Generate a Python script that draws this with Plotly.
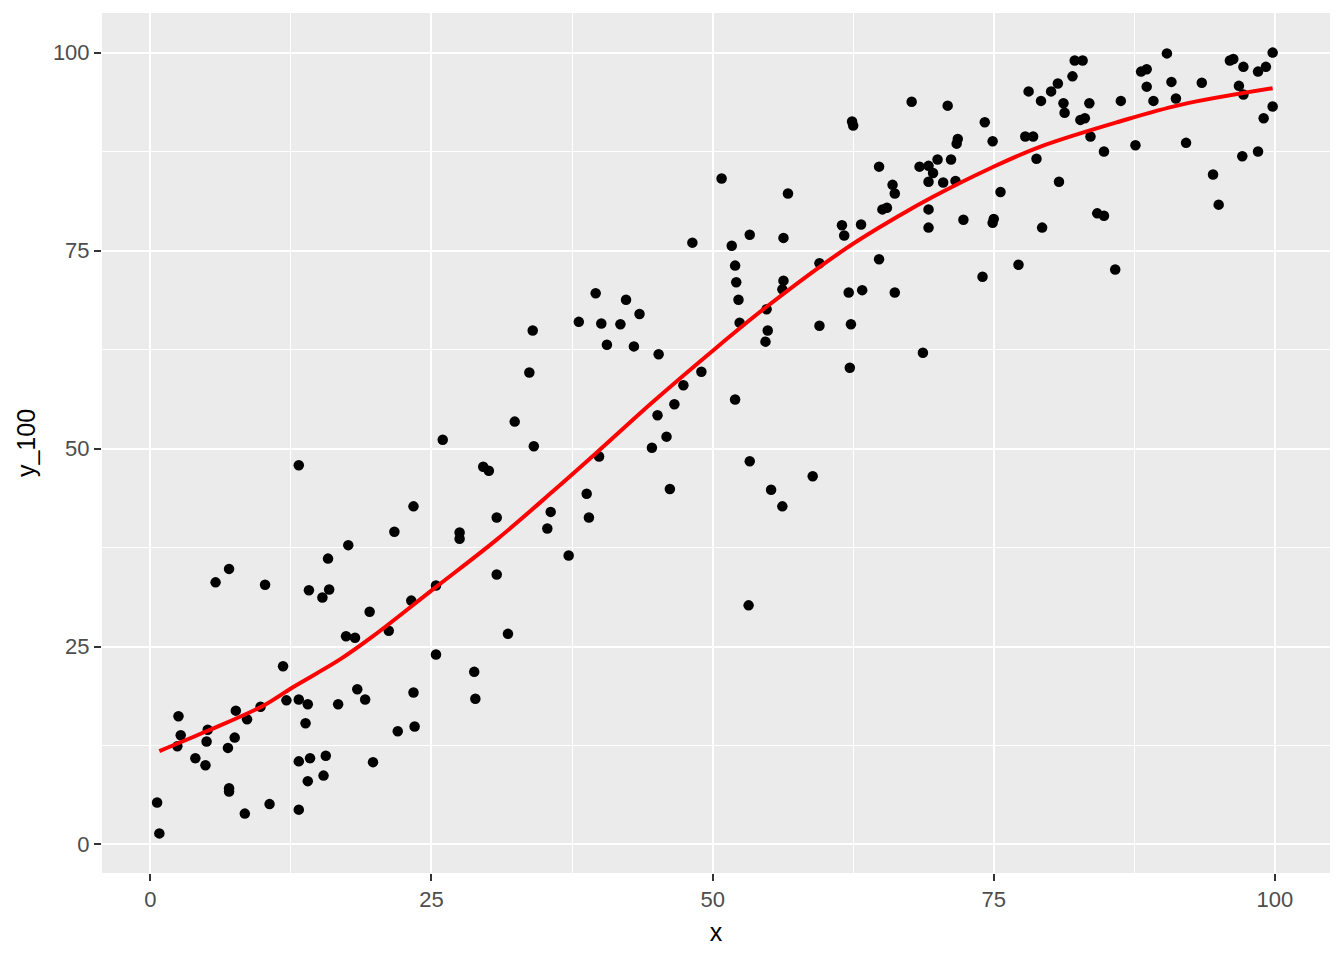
import plotly.graph_objects as go

# scatter data
x_vals = [0.6, 0.8, 2.5, 2.7, 2.4, 4.0, 4.9, 5.1, 5.0, 5.8, 7.0, 6.9, 7.0, 7.0, 7.5, 7.6, 8.4, 8.6, 9.8, 10.2,
          10.6, 11.8, 12.1, 13.2, 13.2, 13.2, 13.2, 13.8, 14.0, 14.1, 14.0, 14.2, 15.3, 15.6, 15.4, 15.8, 15.9, 16.7, 17.4, 17.6,
          18.2, 18.4, 19.1, 19.5, 19.8, 21.2, 21.7, 22.0, 23.2, 23.4, 23.4, 23.5, 25.4, 25.4, 26.0, 27.5, 27.5, 28.8, 28.9, 29.6,
          30.1, 30.8, 30.8, 31.8, 32.4, 33.7, 34.0, 34.1, 35.3, 35.6, 37.2, 38.1, 38.8, 39.0, 39.6, 39.9, 40.1, 40.6, 41.8, 42.3,
          43.0, 43.5, 44.6, 45.1, 45.2, 45.9, 46.2, 46.6, 47.4, 48.2, 49.0, 50.8, 51.7, 52.0, 52.1, 52.0, 52.3, 52.4, 53.2, 53.3,
          53.3, 54.7, 54.9, 54.8, 55.2, 56.2, 56.3, 56.3, 56.2, 56.7, 58.9, 59.5, 59.5, 61.5, 61.7, 62.1, 62.3, 62.2, 62.4, 62.5,
          63.2, 63.3, 64.8, 64.8, 65.1, 65.5, 66.0, 66.2, 66.2, 67.7, 68.4, 68.7, 69.2, 69.2, 69.2, 69.2, 69.6, 70.0, 70.5, 70.9,
          71.2, 71.6, 71.7, 71.8, 72.3, 74.0, 74.2, 74.9, 75.0, 74.9, 75.6, 77.2, 77.8, 78.1, 78.5, 78.8, 79.2, 79.3, 80.1, 80.7,
          80.8, 81.2, 81.3, 82.0, 82.2, 82.9, 82.7, 83.1, 83.5, 83.6, 84.2, 84.8, 84.8, 85.8, 86.3, 87.6, 88.1, 88.6, 88.6, 89.2,
          90.4, 90.8, 91.2, 92.1, 93.5, 94.5, 95.0, 96.0, 96.3, 96.8, 97.1, 97.2, 97.2, 98.5, 98.5, 99.2, 99.0, 99.8, 99.8]
y_vals = [5.3, 1.4, 16.2, 13.8, 12.4, 10.9, 10.0, 14.5, 13.0, 33.1, 34.8, 12.2, 7.1, 6.7, 13.5, 16.9, 3.9, 15.8, 17.4, 32.8,
          5.1, 22.5, 18.2, 47.9, 18.3, 10.5, 4.4, 15.3, 17.7, 32.1, 8.0, 10.9, 31.2, 11.2, 8.7, 36.1, 32.2, 17.7, 26.3, 37.8,
          26.1, 19.6, 18.3, 29.4, 10.4, 27.0, 39.5, 14.3, 30.8, 42.7, 19.2, 14.9, 24.0, 32.7, 51.1, 39.4, 38.6, 21.8, 18.4, 47.7,
          47.2, 41.3, 34.1, 26.6, 53.4, 59.6, 64.9, 50.3, 39.9, 42.0, 36.5, 66.0, 44.3, 41.3, 69.6, 49.0, 65.8, 63.1, 65.7, 68.8,
          62.9, 67.0, 50.1, 54.2, 61.9, 51.5, 44.9, 55.6, 58.0, 76.0, 59.7, 84.1, 75.6, 73.1, 71.0, 56.2, 68.8, 65.9, 30.2, 48.4,
          77.0, 63.5, 64.9, 67.6, 44.8, 42.7, 76.6, 71.2, 70.1, 82.2, 46.5, 65.5, 73.4, 78.2, 76.9, 69.7, 65.7, 60.2, 91.3, 90.8,
          78.3, 70.0, 73.9, 85.6, 80.2, 80.4, 83.3, 82.2, 69.7, 93.8, 85.6, 62.1, 77.9, 80.2, 83.7, 85.7, 84.8, 86.5, 83.6, 93.3,
          86.5, 83.8, 88.5, 89.1, 78.9, 71.7, 91.2, 88.8, 79.0, 78.5, 82.4, 73.2, 89.4, 95.1, 89.4, 86.6, 93.9, 77.9, 95.1, 96.1,
          83.7, 93.6, 92.4, 97.0, 99.0, 99.0, 91.5, 91.7, 93.6, 89.4, 79.7, 79.4, 87.5, 72.6, 93.9, 88.3, 97.6, 97.9, 95.7, 93.9,
          99.9, 96.3, 94.2, 88.6, 96.2, 84.6, 80.8, 99.0, 99.2, 95.8, 86.9, 98.2, 94.7, 87.5, 97.6, 98.2, 91.7, 100.0, 93.2]

# smoothed curve
smooth_x = [0.8, 5.0, 10.0, 12.6, 16.9, 19.8, 25.3, 30.8, 35.8, 39.7, 44.7, 49.8, 54.8, 62.0, 66.7, 69.6, 74.7, 79.1, 86.2, 91.6, 99.8]
smooth_y = [11.8, 14.3, 17.5, 19.8, 23.4, 26.3, 32.4, 38.5, 44.6, 49.5, 55.9, 62.1, 67.9, 75.4, 79.5, 81.8, 85.4, 88.1, 91.3, 93.4, 95.5]

x_ticks = [0, 25, 50, 75, 100]
y_ticks = [0, 25, 50, 75, 100]
minor_ticks = [12.5, 37.5, 62.5, 87.5]

fig = go.Figure()
fig.add_trace(go.Scatter(x=x_vals, y=y_vals, mode="markers",
                         marker=dict(color="black", size=10.5, line=dict(width=0)),
                         showlegend=False))
fig.add_trace(go.Scatter(x=smooth_x, y=smooth_y, mode="lines", line=dict(color="#FF0000", width=4, shape="spline"),
                         showlegend=False))

font_family = "Liberation Sans, Arial, sans-serif"
axis_common = dict(
    showgrid=True, gridcolor="white", gridwidth=2,
    zeroline=False, showline=False,
    ticks="outside", ticklen=7, tickwidth=2, tickcolor="#333333",
    tickfont=dict(family=font_family, size=22, color="#4D4D4D"),
    minor=dict(showgrid=True, gridcolor="white", gridwidth=1, tickvals=minor_ticks, ticks=""),
)

fig.update_layout(
    width=1336, height=952,
    margin=dict(l=94, r=14, t=5, b=87),
    paper_bgcolor="white", plot_bgcolor="#EBEBEB",
    xaxis=dict(range=[-4.3, 104.9], tickvals=x_ticks, ticktext=[str(v) for v in x_ticks],
               title=dict(text="x", font=dict(family=font_family, size=25, color="black"), standoff=12),
               **axis_common),
    yaxis=dict(range=[-3.6, 105], tickvals=y_ticks, ticktext=[str(v) for v in y_ticks],
               title=dict(text="y_100", font=dict(family=font_family, size=25, color="black"), standoff=10),
               **axis_common),
)

fig.write_html("out.html")
